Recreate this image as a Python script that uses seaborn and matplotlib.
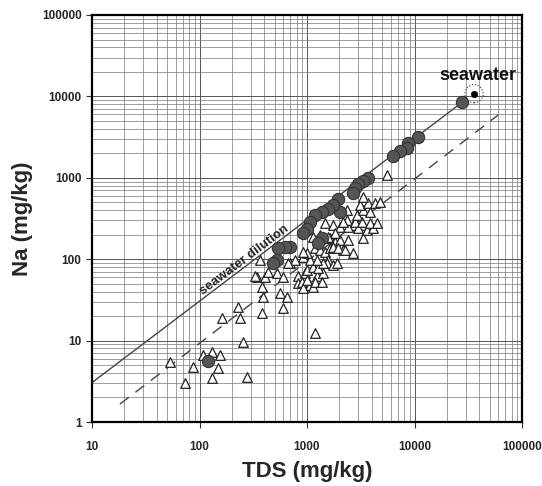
import numpy as np
import pandas as pd
import matplotlib
matplotlib.use('Agg')
import matplotlib.pyplot as plt
import seaborn as sns
from matplotlib.ticker import LogLocator, NullFormatter

# samples on the seawater dilution trend (filled circles)
circle_tds = [27700, 10800, 8700, 8500, 7330, 6310, 3690, 3320, 2980, 2800, 2680,
              2030, 1940, 1750, 1570, 1380, 1190, 1070, 1000, 918, 1380, 1270,
              695, 624, 537, 526, 483, 120]
circle_na = [8500, 3150, 2650, 2300, 2120, 1840, 986, 906, 832, 743, 645,
             377, 544, 459, 410, 377, 346, 284, 233, 208, 181, 157,
             140, 140, 136, 97, 89, 5.6]

# other samples (open triangles)
tri_tds = [53, 73, 87, 108, 131, 155, 149, 131, 277, 254, 162, 238, 228, 381, 598, 1187,
           381, 390, 561, 652, 343, 407, 434, 328, 365, 526, 598, 695, 825, 958,
           825, 899, 1066, 1137, 918, 1239, 1409, 1187, 1379, 1000, 1137, 1000,
           918, 1066, 1000, 918, 1187, 1321, 1471, 1637, 1568, 1535, 1746, 1902,
           1266, 1409, 1239, 773, 666,
           1137, 1321, 1637, 1822, 2028, 1746, 2162, 2679, 1943, 2257, 2407, 3319,
           1471, 1746, 2162, 2679, 3248, 2028, 2407, 2982, 3615, 4111, 2356, 2796,
           3248, 3855, 4479, 2918, 3319, 3855, 3112, 3694, 4292, 4777, 3319, 5549,
           2356, 2162, 1822, 1568]
tri_na = [5.4, 3.0, 4.7, 6.6, 7.2, 6.6, 4.6, 3.5, 3.6, 9.5, 18.8, 18.8, 25.7, 21.6, 24.9, 12.3,
          45, 34, 38, 34, 60, 60, 69, 63, 97, 67, 60, 89, 63, 67,
          51, 52, 48, 45, 44, 63, 67, 52, 52, 73, 80, 55,
          106, 97, 118, 122, 136, 129, 122, 136, 97, 89, 84, 89,
          77, 89, 97, 97, 89,
          186, 197, 181, 161, 171, 140, 129, 118, 136, 129, 171, 181,
          276, 261, 261, 261, 261, 247, 247, 240, 226, 240, 301, 284,
          284, 276, 276, 346, 399, 377, 459, 486, 486, 500, 576, 1074,
          399, 284, 208, 186]

seawater_tds = [35800]
seawater_na = [10800]

dilution_tds = [10, 27700]
dilution_na = [3.05, 8450]
dashed_tds = [18.2, 60000]
dashed_na = [1.66, 5900]

tick_values = [1, 10, 100, 1000, 10000, 100000]
tick_labels = ['1', '10', '100', '1000', '10000', '100000']

sns.set_style('white')
plt.rcParams['font.family'] = ['Liberation Sans', 'DejaVu Sans']

fig = plt.figure(figsize=(5.42, 4.86), dpi=100)
ax = fig.add_axes([92 / 542, 1 - 422 / 486, 430 / 542, 407 / 486])
ax.set_xscale('log')
ax.set_yscale('log')

sns.lineplot(x=dilution_tds, y=dilution_na, color='#444444', linewidth=1.0, ax=ax, zorder=2)
sns.lineplot(x=dashed_tds, y=dashed_na, color='#444444', linewidth=1.0, ax=ax, zorder=2)
ax.lines[-1].set_linestyle((0, (8, 6)))

tri_df = pd.DataFrame({'TDS': tri_tds, 'Na': tri_na})
sns.scatterplot(data=tri_df, x='TDS', y='Na', marker='^', s=48, color='white',
                edgecolor='#222222', linewidth=0.9, ax=ax, zorder=3)

circ_df = pd.DataFrame({'TDS': circle_tds, 'Na': circle_na})
sns.scatterplot(data=circ_df, x='TDS', y='Na', marker='o', s=78, color='#555555',
                edgecolor='#333333', linewidth=0.8, ax=ax, zorder=4)

sw_df = pd.DataFrame({'TDS': seawater_tds, 'Na': seawater_na})
sns.scatterplot(data=sw_df, x='TDS', y='Na', marker='o', s=22, color='black',
                edgecolor='black', ax=ax, zorder=5)
ax.scatter(seawater_tds, seawater_na, s=170, facecolors='none', edgecolors='#333333',
           linewidths=0.8, linestyles=':', zorder=5)

ax.text(39000, 18200, 'seawater', fontsize=13, fontweight='bold',
        ha='center', va='center', color='#111111')
ax.text(259, 98, 'seawater dilution', fontsize=9.5, fontweight='bold', rotation=37,
        rotation_mode='anchor', ha='center', va='center', color='#222222')

ax.set_xlim(10, 100000)
ax.set_ylim(1, 100000)
ax.set_xticks(tick_values[1:])
ax.set_xticklabels(tick_labels[1:])
ax.set_yticks(tick_values)
ax.set_yticklabels(tick_labels)
ax.xaxis.set_minor_locator(LogLocator(base=10, subs=np.arange(2, 10)))
ax.yaxis.set_minor_locator(LogLocator(base=10, subs=np.arange(2, 10)))
ax.xaxis.set_minor_formatter(NullFormatter())
ax.yaxis.set_minor_formatter(NullFormatter())

ax.set_axisbelow(True)
ax.grid(True, which='major', color='#555555', linewidth=0.7)
ax.grid(True, which='minor', color='#777777', linewidth=0.5)

ax.tick_params(which='major', direction='out', length=4.5, width=0.8, color='#333333',
               bottom=True, left=True, labelsize=8.5)
ax.tick_params(axis='x', which='major', pad=9)
ax.tick_params(axis='y', which='major', pad=3)
ax.tick_params(which='minor', length=0)
for lab in ax.get_xticklabels() + ax.get_yticklabels():
    lab.set_fontweight('bold')

for side in ax.spines.values():
    side.set_linewidth(1.6)
    side.set_color('black')

ax.set_xlabel('TDS (mg/kg)', fontsize=16, fontweight='bold', labelpad=6)
ax.set_ylabel('Na (mg/kg)', fontsize=16, fontweight='bold', labelpad=6)

fig.savefig('out.png', dpi=100)
plt.close(fig)
